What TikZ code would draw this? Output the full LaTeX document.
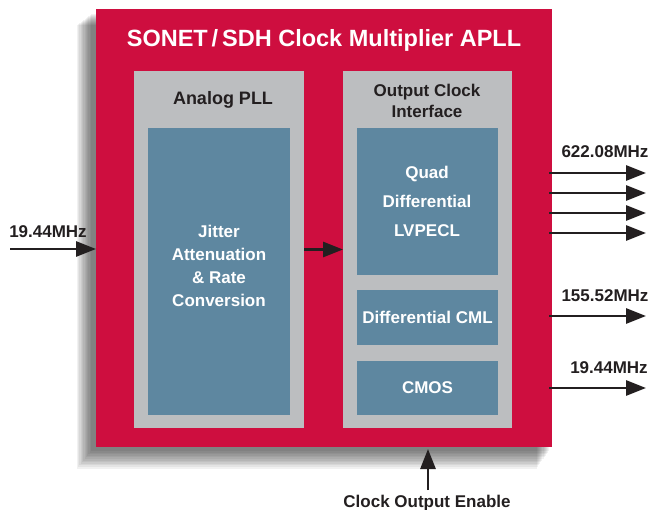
\documentclass[tikz,border=0pt]{standalone}
\usepackage{fontspec}
\setmainfont{Liberation Sans}
\usetikzlibrary{arrows.meta}
\definecolor{apllred}{HTML}{CE0E3F}
\definecolor{panelgray}{HTML}{BCBEC0}
\definecolor{blockblue}{HTML}{5E87A0}
\definecolor{labelink}{HTML}{231F20}
\begin{document}
\begin{tikzpicture}[x=1pt,y=-1pt,
  block/.style={inner sep=0pt, outer sep=0pt, anchor=north west},
  chipbox/.style={block, fill=apllred},
  panel/.style={block, fill=panelgray},
  inner block/.style={block, fill=blockblue},
  heading/.style={text=labelink, align=center, font=\fontsize{17}{21}\selectfont\bfseries},
  blocktext/.style={text=white, align=center, font=\fontsize{17}{23}\selectfont\bfseries},
  sig/.style={text=labelink, font=\fontsize{17}{20}\selectfont\bfseries},
  arr/.style={draw=labelink, line width=2.8pt, -{Triangle[length=20pt,width=15pt]}}]
\useasboundingbox (0,0) rectangle (650,510);

% soft drop shadow behind the chip outline
\foreach \k in {0,...,11}
  \fill[black, opacity=0.055] (91-1.3*\k, 14+\k) rectangle (549-1.1*\k, 451+1.6*\k);

% chip outline and title
\node[chipbox, minimum width=456pt, minimum height=438pt] (chip) at (96,9) {};
\node[text=white, font=\fontsize{23.5}{27}\selectfont\bfseries] (title) at (324,40) {SONET\,/\,SDH Clock Multiplier APLL};

% analog PLL section
\node[panel, minimum width=170pt, minimum height=357pt] (pll) at (134,71) {};
\node[heading, font=\fontsize{18}{21}\selectfont\bfseries] (pllhead) at (223,100) {Analog PLL};
\node[inner block, minimum width=142pt, minimum height=287pt] (jitter) at (148,128) {};
\node[blocktext] (jittertext) at (219,266) {Jitter\\Attenuation\\\& Rate\\Conversion};

% output clock interface section
\node[panel, minimum width=169pt, minimum height=357pt] (oci) at (343,71) {};
\node[heading] (ocihead) at (427,101) {Output Clock\\Interface};
\node[inner block, minimum width=141pt, minimum height=147pt] (lvpecl) at (357,128) {};
\node[blocktext, font=\fontsize{17}{29}\selectfont\bfseries] (lvpecltext) at (427,201) {Quad\\Differential\\LVPECL};
\node[inner block, minimum width=141pt, minimum height=55pt] (cml) at (357,290) {};
\node[blocktext] (cmltext) at (cml.center) {Differential CML};
\node[inner block, minimum width=141pt, minimum height=54pt] (cmos) at (357,361) {};
\node[blocktext] (cmostext) at (cmos.center) {CMOS};

% internal connection
\draw[arr] (pll.east) -- (oci.west);

% input reference clock
\coordinate (in0) at (10,249);
\node[sig] (inlabel) at (48,232) {19.44MHz};
\draw[arr] (in0) -- (chip.west |- in0);

% output clocks
\coordinate (o1) at (646,173);
\coordinate (o2) at (646,193);
\coordinate (o3) at (646,213);
\coordinate (o4) at (646,233);
\coordinate (o5) at (646,316);
\coordinate (o6) at (646,388);
\foreach \o in {o1,o2,o3,o4,o5,o6}
  \draw[arr] ([xshift=-3pt]chip.east |- \o) -- (\o);
\node[sig] (lab1) at (605,152) {622.08MHz};
\node[sig] (lab5) at (605,296) {155.52MHz};
\node[sig] (lab6) at (609,368) {19.44MHz};

% output enable input
\coordinate (oe) at (428,490);
\draw[arr, shorten >=2pt] (oe) -- (oe |- chip.south);
\node[sig] (oelabel) at (427,503) {Clock Output Enable};
\end{tikzpicture}
\end{document}
